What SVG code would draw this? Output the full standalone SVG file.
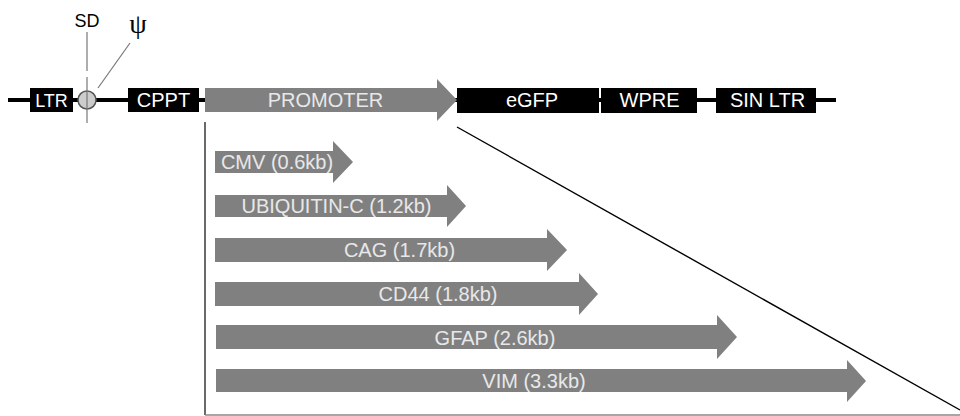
<svg xmlns="http://www.w3.org/2000/svg" width="960" height="416" viewBox="0 0 960 416">
  <style>
    .box { fill: #000000; }
    .boxtxt { font-family: "Liberation Sans", Arial, sans-serif; font-size: 20px; fill: #ffffff; text-anchor: middle; }
    .arrow { fill: #808080; }
    .arrtxt { font-family: "Liberation Sans", Arial, sans-serif; font-size: 20px; fill: #e8e8e8; text-anchor: middle; }
    .thin { stroke: #777777; stroke-width: 1.2; fill: none; }
    .label { font-family: "Liberation Sans", Arial, sans-serif; font-size: 18px; fill: #000000; text-anchor: middle; }
  </style>
  <rect width="960" height="416" fill="#ffffff"/>

  <!-- vector backbone and bracket lines -->
  <g id="connectors">
    <line x1="8" y1="100" x2="836" y2="100" stroke="#000000" stroke-width="4"/>
    <line x1="205" y1="122" x2="205" y2="415" stroke="#444444" stroke-width="1.6"/>
    <line x1="205" y1="415" x2="960" y2="415" stroke="#888888" stroke-width="1.6"/>
    <line x1="457" y1="127" x2="960" y2="410" stroke="#000000" stroke-width="1.4"/>
  </g>

  <g id="ltr">
    <rect class="box" x="30" y="88" width="43" height="24"/>
    <text class="boxtxt" x="51.5" y="107" style="font-size:18px">LTR</text>
  </g>

  <g id="sd-psi">
    <circle cx="87" cy="100" r="9" fill="#cccccc" stroke="#555555" stroke-width="1.5"/>
    <line class="thin" x1="87" y1="32" x2="87" y2="71"/>
    <line class="thin" x1="87" y1="77" x2="87" y2="123"/>
    <line class="thin" x1="130" y1="43" x2="98" y2="88"/>
    <text class="label" x="87" y="26.5">SD</text>
    <text x="138" y="33" font-family="'Liberation Serif', 'Times New Roman', serif" font-size="28" text-anchor="middle" fill="#000000">ψ</text>
  </g>

  <g id="cppt">
    <rect class="box" x="128" y="88" width="71" height="24"/>
    <text class="boxtxt" x="163.5" y="107">CPPT</text>
  </g>

  <g id="promoter">
    <path class="arrow" d="M205 88 H437 V79 L457 100 L437 121 V112 H205 Z"/>
    <text class="arrtxt" x="325.5" y="107">PROMOTER</text>
  </g>

  <g id="egfp">
    <rect class="box" x="457" y="88" width="142" height="25"/>
    <text class="boxtxt" x="532" y="107">eGFP</text>
  </g>

  <g id="wpre">
    <rect class="box" x="601" y="88" width="96" height="25"/>
    <text class="boxtxt" x="649.5" y="107">WPRE</text>
  </g>

  <g id="sin-ltr">
    <rect class="box" x="716" y="88" width="100" height="25"/>
    <text class="boxtxt" x="767.5" y="107">SIN LTR</text>
  </g>

  <g id="cmv">
    <path class="arrow" d="M215 151 H333 V141 L353 162 L333 183 V173 H215 Z"/>
    <text class="arrtxt" x="277" y="169">CMV (0.6kb)</text>
  </g>

  <g id="ubiquitin-c">
    <path class="arrow" d="M215 195 H447 V185 L466 206 L447 227 V217 H215 Z"/>
    <text class="arrtxt" x="336.5" y="213">UBIQUITIN-C (1.2kb)</text>
  </g>

  <g id="cag">
    <path class="arrow" d="M215 238 H547 V229 L567 250 L547 271 V262 H215 Z"/>
    <text class="arrtxt" x="399.5" y="257">CAG (1.7kb)</text>
  </g>

  <g id="cd44">
    <path class="arrow" d="M215 282 H579 V273 L598 294 L579 315 V306 H215 Z"/>
    <text class="arrtxt" x="438" y="301">CD44 (1.8kb)</text>
  </g>

  <g id="gfap">
    <path class="arrow" d="M216 325 H717 V315 L737 337 L717 359 V349 H216 Z"/>
    <text class="arrtxt" x="495" y="344.5">GFAP (2.6kb)</text>
  </g>

  <g id="vim">
    <path class="arrow" d="M216 369 H847 V360 L866 381 L847 402 V392 H216 Z"/>
    <text class="arrtxt" x="534" y="387.5">VIM (3.3kb)</text>
  </g>
</svg>
